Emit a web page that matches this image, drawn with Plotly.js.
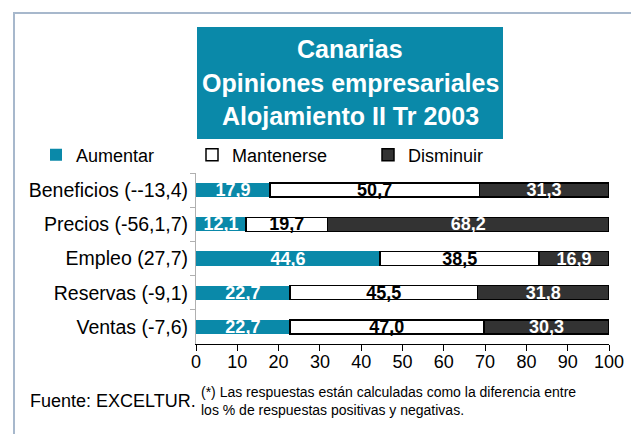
<!DOCTYPE html>
<html><head><meta charset="utf-8">
<script src="https://cdn.plot.ly/plotly-3.0.1.min.js"></script>
<style>html,body{margin:0;padding:0;background:#fff}#chart{width:631px;height:434px}</style>
</head><body><div id="chart"></div>
<script>
const categories = ["Beneficios (--13,4)", "Precios (-56,1,7)", "Empleo (27,7)", "Reservas (-9,1)", "Ventas (-7,6)"];
const aumentar = [17.9, 12.1, 44.6, 22.7, 22.7];
const mantenerse = [50.7, 19.7, 38.5, 45.5, 47.0];
const disminuir = [31.3, 68.2, 16.9, 31.8, 30.3];
const seriesNames = ["Aumentar", "Mantenerse", "Disminuir"];
const xTicks = [0, 10, 20, 30, 40, 50, 60, 70, 80, 90, 100];
const titleLines = ["Canarias", "Opiniones empresariales", "Alojamiento II Tr 2003"];
const sourceText = "Fuente: EXCELTUR.";
const noteLines = ["(*) Las respuestas están calculadas como la diferencia entre", "los % de respuestas positivas y negativas."];

const L = 196, R = 609, T = 173, B = 344;
const PW = R - L, PH = B - T;
const px = x => (x - L) / PW;
const py = y => (B - y) / PH;
const fmt = v => v.toFixed(1).replace('.', ',');
const FONT = '"Liberation Sans", Arial, Helvetica, sans-serif';
const TEAL = '#0a89a9';
const DARK = '#333333';

function barTrace(name, vals, fill, lineW, txtColor, legendId) {
  return {
    type: 'bar', orientation: 'h', name: name,
    y: categories, x: vals,
    text: vals.map(fmt), textposition: 'inside', insidetextanchor: 'middle',
    textangle: 0, constraintext: 'none',
    textfont: {family: FONT, size: 18, color: txtColor, weight: 'bold'},
    marker: {color: fill, line: {color: '#000', width: lineW}},
    legend: legendId, hoverinfo: 'skip'
  };
}

const data = [
  barTrace(seriesNames[0], aumentar, TEAL, 0, '#fff', 'legend'),
  barTrace(seriesNames[1], mantenerse, '#fff', 1.5, '#000', 'legend2'),
  barTrace(seriesNames[2], disminuir, DARK, 1.5, '#fff', 'legend3')
];

function leg(xpix) {
  return {x: px(xpix), xanchor: 'left', y: py(155), yanchor: 'middle', orientation: 'h',
    font: {family: FONT, size: 18, color: '#000'}, bgcolor: 'rgba(0,0,0,0)', borderwidth: 0,
    itemwidth: 30};
}

const annotations = [];
const lineY = [49.5, 82.5, 116.5];
titleLines.forEach((t, i) => annotations.push({
  xref: 'paper', yref: 'paper', x: px(350), y: py(lineY[i]), xanchor: 'center', yanchor: 'middle',
  text: '<b>' + t + '</b>', showarrow: false, font: {family: FONT, size: 25, color: '#fff'}
}));
annotations.push({xref: 'paper', yref: 'paper', x: px(198), y: py(401), xanchor: 'right', yanchor: 'middle',
  text: sourceText, showarrow: false, font: {family: FONT, size: 18, color: '#000'}});
const noteY = [392, 410];
noteLines.forEach((t, i) => annotations.push({xref: 'paper', yref: 'paper', x: px(199), y: py(noteY[i]),
  xanchor: 'left', yanchor: 'middle', text: t, showarrow: false, font: {family: FONT, size: 14, color: '#000'}}));

const layout = {
  width: 631, height: 434,
  margin: {l: L, r: 631 - R, t: T, b: 434 - B, pad: 0},
  paper_bgcolor: '#fff', plot_bgcolor: '#fff',
  barmode: 'stack', bargap: 0.59,
  showlegend: true,
  legend: leg(36), legend2: leg(192), legend3: leg(368),
  xaxis: {range: [0, 100], tickvals: xTicks, ticktext: xTicks.map(String), ticks: 'outside', ticklen: 6,
    tickcolor: '#000', tickwidth: 1, showline: true, linecolor: '#000', linewidth: 1, showgrid: false,
    zeroline: false, tickfont: {family: FONT, size: 18, color: '#000'}, ticklabelstandoff: -5, fixedrange: true},
  yaxis: {type: 'category', autorange: 'reversed', ticks: 'outside', tickson: 'boundaries', ticklen: 5,
    tickcolor: '#b0b0b0', showline: true, linecolor: '#b0b0b0', linewidth: 1, showgrid: false,
    tickfont: {family: FONT, size: 19.5, color: '#000'}, ticklabelstandoff: 3, fixedrange: true},
  shapes: [
    {type: 'rect', xref: 'paper', yref: 'paper', x0: px(197), x1: px(503), y0: py(139), y1: py(27),
      fillcolor: TEAL, line: {width: 0}},
    {type: 'line', xref: 'paper', yref: 'paper', x0: px(14), x1: px(14), y0: py(13), y1: py(440),
      line: {color: '#a7b8cc', width: 2}},
    {type: 'line', xref: 'paper', yref: 'paper', x0: px(13), x1: px(640), y0: py(13), y1: py(13),
      line: {color: '#a7b8cc', width: 2}}
  ],
  annotations: annotations
};

Plotly.newPlot('chart', data, layout, {displayModeBar: false, staticPlot: true});
</script></body></html>
